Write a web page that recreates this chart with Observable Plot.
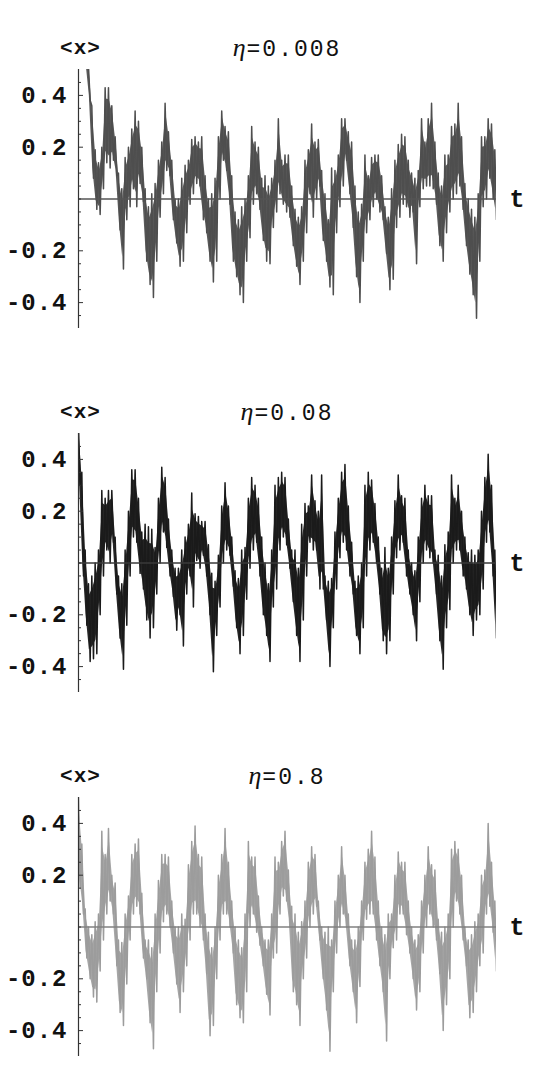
<!DOCTYPE html>
<html><head><meta charset="utf-8">
<script src="https://cdn.jsdelivr.net/npm/d3@7"></script>
<script src="https://cdn.jsdelivr.net/npm/@observablehq/plot@0.6"></script>
<style>
body{margin:0;background:#fff;overflow:hidden}
#root{position:relative;width:551px;height:1090px}
.panel{position:absolute;left:0;width:551px}
.title{position:absolute;left:78px;width:418px;text-align:center;font-family:"Liberation Mono",monospace;font-size:23px;letter-spacing:2px;color:#111;line-height:1;white-space:nowrap}
.title .eta{font-family:"Liberation Serif",serif;font-style:italic;font-size:26px;letter-spacing:1px}
</style></head><body><div id="root"></div>
<script>
// ---- data: per sample bin, upper and lower extent of the noisy <x>(t) trace ----
const hi1 = [0.62,0.60,0.56,
 0.51,0.36,0.19,0.14,0.20,0.43,0.43,0.36,0.24,0.10,0.04,0.16,0.20,0.27,0.34,0.30,0.20,0.04,-0.03,0.02,0.06,0.15,0.22,0.37,0.26,0.15,0.00,0.00,0.08,0.13,0.15,0.23,0.24,0.22,0.24,0.09,0.00,0.02,0.08,0.24,0.34,0.28,0.26,0.09,-0.05,-0.08,-0.03,0.00,0.09,0.28,0.22,0.20,0.08,0.09,0.05,0.08,0.15,0.31,0.15,0.17,0.17,
 0.05,-0.04,-0.07,-0.03,0.15,0.19,0.29,0.22,0.23,0.11,0.02,-0.08,0.12,0.11,0.17,0.31,0.31,0.26,0.22,0.05,-0.05,-0.02,0.17,0.09,0.16,0.17,0.17,0.09,-0.03,-0.07,0.04,0.15,0.21,0.25,0.24,0.15,0.10,0.08,0.11,0.31,0.22,0.31,0.37,0.22,0.10,0.05,0.17,0.17,0.28,0.29,0.37,0.24,0.06,0.00,-0.04,-0.07,0.02,0.24,0.24,0.31,0.29,0.19];
const lo1 = [0.58,0.54,0.52,
 0.38,0.08,-0.04,-0.06,0.04,0.14,0.12,0.15,0.09,-0.12,-0.27,-0.08,-0.03,0.04,-0.03,0.06,-0.01,-0.24,-0.33,-0.38,-0.24,-0.07,0.02,0.11,0.09,-0.08,-0.17,-0.26,-0.24,-0.13,-0.02,0.02,0.06,0.05,-0.08,-0.13,-0.24,-0.32,-0.24,0.00,0.15,0.11,-0.02,-0.24,-0.30,-0.37,-0.40,-0.24,-0.15,-0.02,0.02,-0.04,-0.16,-0.24,-0.25,-0.11,-0.05,0.02,-0.02,-0.05,-0.07,
 -0.18,-0.26,-0.33,-0.24,-0.13,0.02,-0.07,0.00,0.05,-0.16,-0.24,-0.34,-0.37,-0.13,-0.03,0.05,0.15,0.02,-0.11,-0.30,-0.40,-0.24,-0.13,-0.08,-0.03,0.00,-0.05,-0.08,-0.21,-0.35,-0.31,-0.11,-0.07,-0.02,-0.03,-0.07,-0.05,-0.25,-0.03,0.04,0.05,0.05,0.04,-0.02,-0.18,-0.24,-0.13,-0.05,0.00,0.02,0.05,-0.04,-0.18,-0.29,-0.37,-0.46,-0.24,-0.03,0.00,0.08,0.00,-0.08];

const hi2 = [0.52,0.35,0.05,-0.08,-0.05,0.00,0.05,0.28,0.25,0.28,0.28,0.10,-0.05,-0.08,0.05,0.20,0.36,0.36,0.25,0.12,0.15,0.14,0.13,0.06,0.25,0.37,0.33,0.17,0.05,-0.02,-0.02,0.05,0.10,0.15,0.27,0.19,0.18,0.16,0.16,0.07,-0.04,-0.07,0.03,0.22,0.31,0.22,0.10,-0.03,-0.06,0.05,0.06,0.25,0.33,0.30,0.25,0.10,0.00,-0.08,0.05,0.30,0.33,
 0.35,0.33,0.17,0.05,0.05,-0.02,0.15,0.23,0.22,0.34,0.24,0.20,0.34,-0.05,-0.07,-0.06,0.12,0.25,0.35,0.38,0.22,0.08,-0.07,-0.05,0.00,0.30,0.35,0.32,0.23,0.10,-0.02,0.06,-0.02,0.10,0.24,0.34,0.26,0.25,0.05,0.00,-0.03,0.10,0.25,0.30,0.26,0.26,0.05,0.03,-0.05,0.07,0.12,0.34,0.25,0.30,0.20,0.10,0.04,0.05,0.03,0.05,0.20,0.33,0.42,0.30,0.05];
const lo2 = [0.30,-0.05,-0.24,-0.38,-0.37,-0.35,-0.20,-0.05,0.05,0.00,0.08,-0.12,-0.29,-0.41,-0.24,-0.05,0.10,0.08,-0.04,-0.10,-0.22,-0.29,-0.25,-0.12,0.00,0.12,0.06,-0.05,-0.13,-0.26,-0.20,-0.32,-0.12,-0.05,-0.17,0.01,-0.02,0.03,-0.05,-0.20,-0.42,-0.28,-0.17,0.00,0.05,0.03,-0.09,-0.25,-0.35,-0.28,-0.14,-0.02,0.05,0.08,-0.05,-0.20,-0.28,-0.38,-0.17,-0.10,0.05,
 0.10,0.07,-0.02,-0.15,-0.28,-0.38,-0.22,-0.05,0.08,0.05,0.05,-0.10,-0.10,-0.22,-0.40,-0.25,-0.10,0.02,0.08,0.05,-0.05,-0.12,-0.28,-0.35,-0.25,-0.05,0.05,0.08,0.00,-0.12,-0.30,-0.35,-0.30,-0.12,0.02,0.05,0.08,-0.05,-0.12,-0.20,-0.30,-0.15,0.00,0.05,0.02,0.00,-0.12,-0.30,-0.41,-0.25,-0.18,0.00,0.05,0.05,-0.05,-0.10,-0.20,-0.28,-0.22,-0.20,-0.10,0.08,0.12,-0.05,-0.29];

const hi3 = [0.50,0.32,0.07,0.00,-0.03,0.02,0.05,0.37,0.28,0.38,0.20,0.17,-0.05,-0.06,0.05,0.12,0.28,0.32,0.34,0.13,-0.05,-0.05,-0.08,0.05,0.18,0.28,0.28,0.27,0.10,0.00,0.00,0.05,0.03,0.24,0.33,0.39,0.28,0.27,0.05,-0.02,-0.08,0.00,0.20,0.28,0.38,0.25,0.10,0.00,-0.05,-0.08,0.05,0.33,0.27,0.27,0.12,0.00,-0.05,-0.05,0.05,0.27,0.25,
 0.33,0.37,0.22,0.08,0.05,-0.02,0.02,0.10,0.25,0.31,0.28,0.10,0.00,-0.02,0.00,-0.05,0.10,0.20,0.31,0.20,0.05,-0.05,-0.05,0.00,0.10,0.25,0.30,0.37,0.27,0.10,0.00,-0.03,0.05,0.05,0.20,0.29,0.25,0.25,0.10,0.00,-0.05,-0.03,0.10,0.20,0.31,0.24,0.22,0.03,-0.02,0.00,0.05,0.30,0.33,0.30,0.20,0.00,-0.05,-0.03,0.02,0.05,0.20,0.22,0.40,0.25,0.10];
const lo3 = [0.15,0.05,-0.12,-0.20,-0.27,-0.29,-0.17,-0.05,0.05,0.10,0.05,-0.15,-0.33,-0.38,-0.22,-0.05,0.05,0.08,0.05,-0.12,-0.20,-0.37,-0.47,-0.25,-0.10,0.02,0.05,0.00,-0.10,-0.22,-0.33,-0.25,-0.15,-0.05,0.05,0.05,0.00,-0.05,-0.18,-0.42,-0.38,-0.20,-0.05,0.05,0.05,0.00,-0.10,-0.30,-0.35,-0.37,-0.25,0.00,0.05,-0.02,-0.07,-0.15,-0.26,-0.34,-0.12,-0.10,0.05,
 0.12,0.10,0.00,-0.25,-0.30,-0.38,-0.20,-0.12,0.00,0.05,0.08,-0.05,-0.20,-0.32,-0.48,-0.25,-0.10,0.00,0.05,0.00,-0.15,-0.25,-0.37,-0.23,-0.05,0.03,0.05,0.05,-0.05,-0.15,-0.25,-0.44,-0.20,-0.08,-0.05,0.05,0.05,-0.03,-0.10,-0.20,-0.32,-0.25,-0.10,0.00,0.05,0.00,-0.05,-0.18,-0.40,-0.30,-0.20,0.00,0.10,0.05,-0.05,-0.15,-0.35,-0.33,-0.25,-0.15,-0.10,0.05,0.08,-0.02,-0.17];

const etas = ["0.008", "0.08", "0.8"];
const majorTicks = [-0.4, -0.2, 0.2, 0.4];
const majorLabels = ["-0.4", "-0.2", "0.2", "0.4"];
const minorTicks = [-0.45,-0.35,-0.3,-0.25,-0.15,-0.1,-0.05,0,0.05,0.1,0.15,0.25,0.3,0.35,0.45];
const yLabel = "<x>";
const xLabel = "t";

const root = document.getElementById("root");

function panel(hi, lo, color, bandColor, zeroColor, eta, top, h) {
  const rows = [];
  const bins = [];
  hi.forEach((v, i) => {
    rows.push({t: i, v}); rows.push({t: i + 0.5, v: lo[i]});
    bins.push({t: i + 0.25, hi: v, lo: lo[i]});
  });
  const tEnd = hi.length - 0.5;
  const frameW = 551 - 78 - 55;
  const svg = Plot.plot({
    width: 551, height: h,
    marginLeft: 78, marginRight: 55, marginTop: 69, marginBottom: h - 328,
    style: {background: "transparent", overflow: "visible"},
    x: {domain: [0, tEnd], axis: null},
    y: {domain: [-0.5, 0.5], axis: null},
    marks: [
      Plot.areaY(bins, {x: "t", y1: d => Math.min(d.hi, d.lo) * 0.85 + Math.max(d.hi, d.lo) * 0.15, y2: d => Math.max(d.hi, d.lo) * 0.85 + Math.min(d.hi, d.lo) * 0.15, fill: bandColor, clip: true}),
      Plot.line(rows, {x: "t", y: "v", stroke: color, strokeWidth: 1.5, clip: true}),
      Plot.ruleY([0], {stroke: zeroColor, strokeWidth: 1.3}),
      Plot.ruleX([0], {stroke: "#333", strokeWidth: 1.2}),
      Plot.tickY(minorTicks, {y: d => d, stroke: "#333", insetRight: frameW - 3}),
      Plot.tickY(majorTicks, {y: d => d, stroke: "#333", insetRight: frameW - 5}),
      Plot.text(majorTicks, {x: 0, y: d => d, text: (d, i) => majorLabels[i], textAnchor: "end", dx: -11,
        fontFamily: "Liberation Mono", fontWeight: "bold", fontSize: 24, fill: "#111"}),
      Plot.text([yLabel], {frameAnchor: "top-left", lineAnchor: "middle", textAnchor: "middle", dx: 2, dy: -22, text: d => d,
        fontFamily: "Liberation Mono", fontWeight: "bold", fontSize: 21, fill: "#111"}),
      Plot.text([xLabel], {x: tEnd, y: 0, dx: 21, textAnchor: "middle", text: d => d,
        fontFamily: "Liberation Mono", fontWeight: "bold", fontSize: 25, fill: "#111"})
    ]
  });
  svg.querySelectorAll("text").forEach(t => t.setAttribute("letter-spacing", "1"));
  const wrap = document.createElement("div");
  wrap.className = "panel";
  wrap.style.top = top + "px";
  wrap.appendChild(svg);
  const title = document.createElement("div");
  title.className = "title";
  title.style.top = "35px";
  title.innerHTML = '<span class="eta">\u03b7</span>=' + eta;
  wrap.appendChild(title);
  root.appendChild(wrap);
}

panel(hi1, lo1, "#4e4e4e", "#5a5a5a", "#555555", etas[0], 0, 364);
panel(hi2, lo2, "#1a1a1a", "#262626", "#3a3a3a", etas[1], 364, 364);
panel(hi3, lo3, "#9c9c9c", "#a6a6a6", "#808080", etas[2], 728, 362);
</script></body></html>
